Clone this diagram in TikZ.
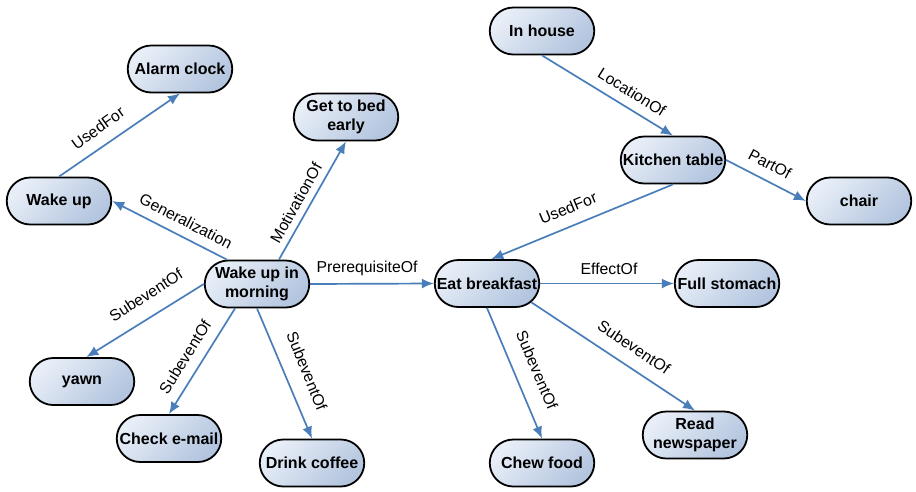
\documentclass[tikz,border=0pt]{standalone}
\usepackage{fontspec}
\setmainfont{Liberation Sans}
\usetikzlibrary{shapes.misc,arrows.meta}
\definecolor{edgeblue}{HTML}{4A7EBB}
\definecolor{nlight}{HTML}{E8EEF7}
\definecolor{ndark}{HTML}{B3C5DF}
\begin{document}
\begin{tikzpicture}[x=1pt,y=-1pt,
  concept/.style={rounded rectangle, draw=black, line width=1.8pt,
    minimum width=108.5pt, minimum height=47pt, inner sep=2pt,
    top color=nlight, bottom color=ndark, shading angle=45,
    font=\bfseries\fontsize{16}{19}\selectfont, align=center},
  rel/.style={draw=edgeblue, line width=1.7pt, -{Latex[length=12pt,width=10pt]}},
  lbl/.style={font=\fontsize{15.8}{18}\selectfont, inner sep=0pt}]
\useasboundingbox (0,0) rectangle (916,491);
% concepts
\node[concept] (ac) at (180,69) {Alarm clock};
\node[concept] (ih) at (542,31) {In house};
\node[concept] (gb) at (346,117) {Get to bed\\early};
\node[concept] (wu) at (59,201) {Wake up};
\node[concept] (kt) at (673,160) {Kitchen table};
\node[concept] (ch) at (859,201) {chair};
\node[concept] (wm) at (257,284) {Wake up in\\morning};
\node[concept] (eb) at (487,283.5) {Eat breakfast};
\node[concept] (fs) at (727,283.5) {Full stomach};
\node[concept] (yw) at (82,381.5) {yawn};
\node[concept] (ce) at (169,438.5) {Check e-mail};
\node[concept] (dc) at (312,463) {Drink coffee};
\node[concept] (cf) at (542,463) {Chew food};
\node[concept] (rn) at (695,435) {Read\\newspaper};
% relations
\draw[rel] (wu.north) -- (ac.south);
\draw[rel] (wm.141) -- (wu.east);
\draw[rel] (wm.48) -- (gb.south);
\draw[rel] (wm.east) -- (eb.west);
\draw[rel] (wm.west) -- (yw.80);
\draw[rel] (wm.228) -- (ce.north);
\draw[rel] (wm.south) -- (dc.north);
\draw[rel] (ih.south) -- (kt.north);
\draw[rel] (kt.east) -- (ch.west);
\draw[rel] (kt.south) -- (eb.80);
\draw[rel] (eb.east) -- (fs.west);
\draw[rel] (eb.south) -- (cf.north);
\draw[rel] (eb.-23) -- (rn.north);
% labels
\node[lbl, rotate=35.7] (l1) at (98,128) {UsedFor};
\node[lbl, rotate=-27.4] (l2) at (186,221) {Generalization};
\node[lbl, rotate=60.6] (l3) at (296,203) {MotivationOf};
\node[lbl] (l4) at (367,268) {PrerequisiteOf};
\node[lbl, rotate=32.8] (l5) at (146,295) {SubeventOf};
\node[lbl, rotate=58] (l6) at (185,357) {SubeventOf};
\node[lbl, rotate=-68] (l7) at (307,371) {SubeventOf};
\node[lbl, rotate=-32] (l8) at (632,92) {LocationOf};
\node[lbl, rotate=-28] (l9) at (770,164) {PartOf};
\node[lbl, rotate=22.5] (l10) at (568,208) {UsedFor};
\node[lbl] (l11) at (609,269) {EffectOf};
\node[lbl, rotate=-67] (l12) at (537,370) {SubeventOf};
\node[lbl, rotate=-34] (l13) at (634,347) {SubeventOf};
\end{tikzpicture}
\end{document}
